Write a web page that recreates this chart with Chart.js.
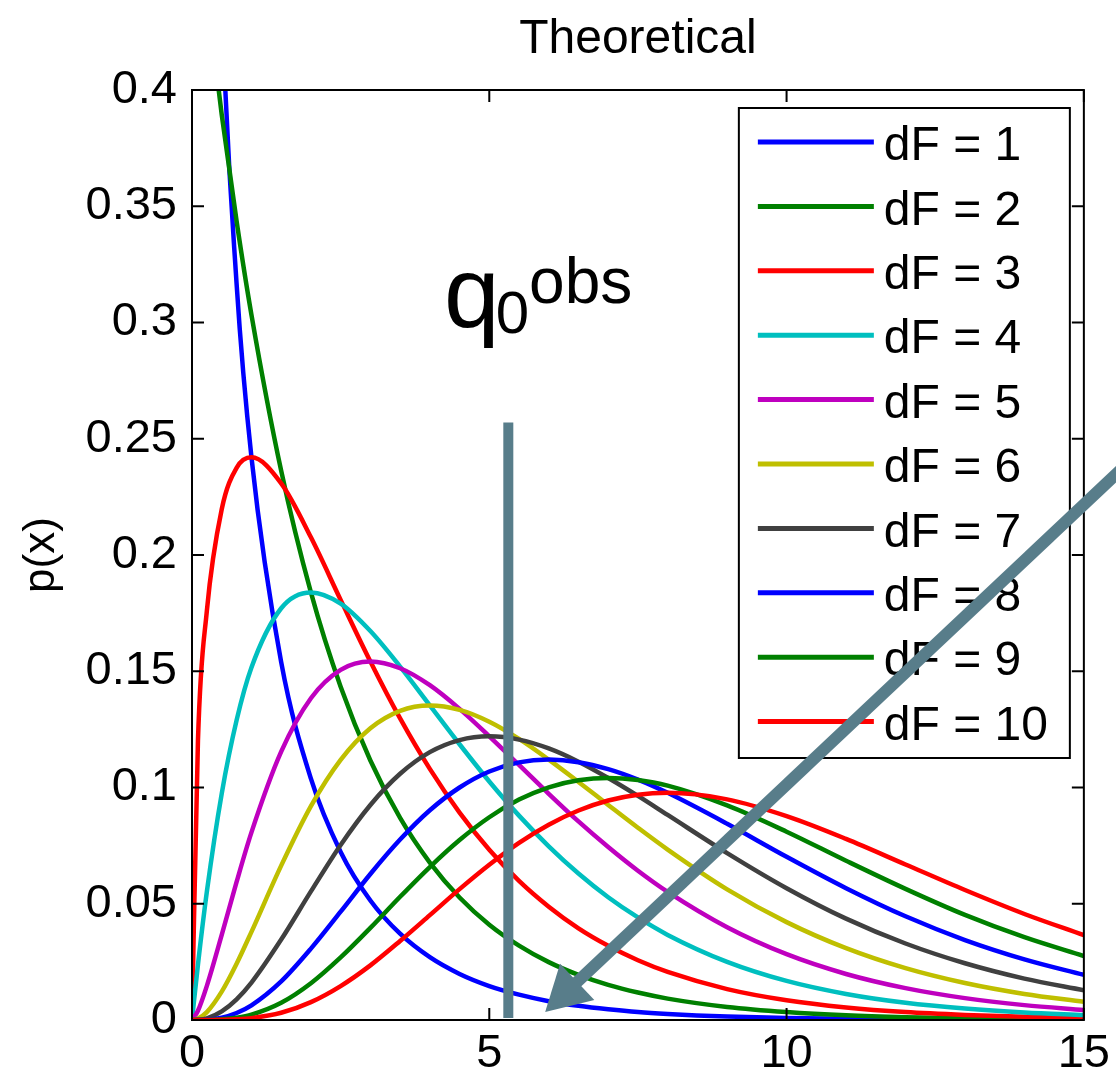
<!DOCTYPE html>
<html>
<head>
<meta charset="utf-8">
<script src="https://cdn.jsdelivr.net/npm/chart.js@4.4.1/dist/chart.umd.min.js"></script>
<style>
  html, body { margin: 0; padding: 0; background: #fff; }
</style>
</head>
<body>
<canvas id="myChart" width="1116" height="1083"></canvas>
<script>
// x positions shared by every curve
const xs = [0, 0.1, 0.25, 0.5, 0.75, 1, 1.5, 2, 2.5, 3, 3.5, 4, 4.5, 5, 5.5, 6, 6.5, 7, 7.5, 8, 9, 10, 11, 12, 13, 14, 15];

// p(x), one array per dF
const df1 = [null, 1.2, 0.704, 0.4394, 0.3166, 0.242, 0.1539, 0.1038, 0.0723, 0.0514, 0.0371, 0.027, 0.0198, 0.0146, 0.0109, 0.0081, 0.0061, 0.0046, 0.0034, 0.0026, 0.0015, 0.00085, 0.00049, 0.00029, 0.00017, 0.0001, 0.00006];
const df2 = [0.5, 0.4756, 0.4413, 0.3894, 0.3436, 0.3033, 0.2362, 0.1839, 0.1433, 0.1116, 0.0869, 0.0677, 0.0527, 0.041, 0.032, 0.0249, 0.0194, 0.0151, 0.0118, 0.0092, 0.0056, 0.0034, 0.002, 0.0012, 0.00075, 0.00046, 0.00028];
const df3 = [0, 0.12, 0.176, 0.2197, 0.2375, 0.242, 0.2308, 0.2076, 0.1807, 0.1542, 0.1297, 0.108, 0.0892, 0.0732, 0.0598, 0.0487, 0.0394, 0.0319, 0.0257, 0.0207, 0.0133, 0.0085, 0.0054, 0.0034, 0.0022, 0.0014, 0.00085];
const df4 = [0, 0.0238, 0.0552, 0.0974, 0.1289, 0.1516, 0.1771, 0.1839, 0.1791, 0.1673, 0.152, 0.1353, 0.1186, 0.1026, 0.0879, 0.0747, 0.063, 0.0528, 0.0441, 0.0366, 0.025, 0.0168, 0.0112, 0.0074, 0.0049, 0.0032, 0.0021];
const df5 = [0, 0.004, 0.0147, 0.0366, 0.0594, 0.0807, 0.1154, 0.1384, 0.1506, 0.1542, 0.1513, 0.144, 0.1338, 0.122, 0.1097, 0.0973, 0.0854, 0.0744, 0.0642, 0.0551, 0.0399, 0.0283, 0.0198, 0.0137, 0.0094, 0.0064, 0.0043];
const df6 = [0, 0.0006, 0.0034, 0.0122, 0.0242, 0.0379, 0.0664, 0.092, 0.1119, 0.1255, 0.133, 0.1353, 0.1334, 0.1283, 0.1209, 0.112, 0.1024, 0.0925, 0.0827, 0.0733, 0.0562, 0.0421, 0.0309, 0.0223, 0.0159, 0.0112, 0.0078];
const df7 = [0, 0.0001, 0.0007, 0.0037, 0.0089, 0.0161, 0.0346, 0.0553, 0.0753, 0.0925, 0.1059, 0.1152, 0.1204, 0.122, 0.1206, 0.1168, 0.1111, 0.1041, 0.0964, 0.0882, 0.0718, 0.0567, 0.0436, 0.0329, 0.0244, 0.0178, 0.0128];
const df8 = [0, 0, 0.0001, 0.001, 0.003, 0.0063, 0.0166, 0.0307, 0.0466, 0.0628, 0.0776, 0.0902, 0.1, 0.1069, 0.1108, 0.112, 0.1109, 0.1079, 0.1034, 0.0977, 0.0844, 0.0702, 0.0567, 0.0446, 0.0344, 0.0261, 0.0194];
const df9 = [0, 0, 0, 0.0003, 0.001, 0.0023, 0.0074, 0.0158, 0.0269, 0.0396, 0.053, 0.0658, 0.0774, 0.0872, 0.0948, 0.1001, 0.1031, 0.1041, 0.1032, 0.1008, 0.0923, 0.081, 0.0685, 0.0564, 0.0452, 0.0356, 0.0275];
const df10 = [0, 0, 0, 0.0001, 0.0003, 0.0008, 0.0031, 0.0077, 0.0146, 0.0235, 0.034, 0.0451, 0.0563, 0.0668, 0.0762, 0.084, 0.0901, 0.0944, 0.0969, 0.0977, 0.0949, 0.0877, 0.0779, 0.0669, 0.0559, 0.0456, 0.0365];

const labels = ["dF = 1", "dF = 2", "dF = 3", "dF = 4", "dF = 5", "dF = 6", "dF = 7", "dF = 8", "dF = 9", "dF = 10"];
const series = [df1, df2, df3, df4, df5, df6, df7, df8, df9, df10];

const xTicks = [0, 5, 10, 15];
const yTicks = [0, 0.05, 0.1, 0.15, 0.2, 0.25, 0.3, 0.35, 0.4];
const yTickLabels = ["0", "0.05", "0.1", "0.15", "0.2", "0.25", "0.3", "0.35", "0.4"];

// hand-drawn marks on top of the plot (data coords)
const obsX = 5.32;
const obsTop = 0.257;
const arrowFrom = [15.8, 0.241];
const arrowTo = [5.94, 0.0034];
const obsLabelAt = [4.29, 0.298];

const colors = ["#0000ff", "#008000", "#ff0000", "#00bfbf", "#bf00bf", "#bfbf00", "#404040", "#0000ff", "#008000", "#ff0000"];
const FONT = '"Liberation Sans", Arial, Helvetica, sans-serif';
const slate = "#587d8a";

const overlay = {
  id: "overlay",
  afterDatasetsDraw(chart) {
    const { ctx, chartArea: a, scales } = chart;
    const x = scales.x, y = scales.y;
    ctx.save();

    // title over the axes
    ctx.fillStyle = "#000";
    ctx.font = "48px " + FONT;
    ctx.textAlign = "center";
    ctx.textBaseline = "alphabetic";
    ctx.fillText("Theoretical", (a.left + a.right) / 2, 53);

    // axes box + inward ticks
    ctx.strokeStyle = "#000";
    ctx.lineWidth = 2;
    ctx.strokeRect(a.left, a.top, a.right - a.left, a.bottom - a.top);
    const tl = 12;
    ctx.beginPath();
    xTicks.forEach(v => {
      const px = x.getPixelForValue(v);
      ctx.moveTo(px, a.bottom); ctx.lineTo(px, a.bottom - tl);
      ctx.moveTo(px, a.top); ctx.lineTo(px, a.top + tl);
    });
    yTicks.forEach(v => {
      const py = y.getPixelForValue(v);
      ctx.moveTo(a.left, py); ctx.lineTo(a.left + tl, py);
      ctx.moveTo(a.right, py); ctx.lineTo(a.right - tl, py);
    });
    ctx.stroke();

    // legend box
    const lw = 331, lh = 650;
    const lx = a.right - 345, ly = a.top + 18;
    ctx.fillStyle = "#fff";
    ctx.fillRect(lx, ly, lw, lh);
    ctx.strokeStyle = "#000";
    ctx.lineWidth = 2;
    ctx.strokeRect(lx, ly, lw, lh);
    ctx.font = "48px " + FONT;
    ctx.textBaseline = "middle";
    ctx.textAlign = "left";
    labels.forEach((lab, i) => {
      const ry = ly + 34 + i * 64.4;
      ctx.strokeStyle = colors[i];
      ctx.lineWidth = 5;
      ctx.beginPath();
      ctx.moveTo(lx + 19, ry);
      ctx.lineTo(lx + 135, ry);
      ctx.stroke();
      ctx.fillStyle = "#000";
      ctx.fillText(lab, lx + 145, ry + 5);
    });

    // q0obs marker line
    ctx.strokeStyle = slate;
    ctx.lineWidth = 10;
    ctx.beginPath();
    ctx.moveTo(x.getPixelForValue(obsX), y.getPixelForValue(0) - 2);
    ctx.lineTo(x.getPixelForValue(obsX), y.getPixelForValue(obsTop));
    ctx.stroke();

    // arrow
    const sx = x.getPixelForValue(arrowFrom[0]), sy = y.getPixelForValue(arrowFrom[1]);
    const tx = x.getPixelForValue(arrowTo[0]), ty = y.getPixelForValue(arrowTo[1]);
    const len = Math.hypot(tx - sx, ty - sy);
    const ux = (tx - sx) / len, uy = (ty - sy) / len;
    const headL = 44, headW = 25;
    const bx = tx - ux * headL, by = ty - uy * headL;
    ctx.lineWidth = 12;
    ctx.beginPath();
    ctx.moveTo(sx, sy);
    ctx.lineTo(bx + ux * 4, by + uy * 4);
    ctx.stroke();
    ctx.fillStyle = slate;
    ctx.beginPath();
    ctx.moveTo(tx, ty);
    ctx.lineTo(bx - uy * headW, by + ux * headW);
    ctx.lineTo(bx + uy * headW, by - ux * headW);
    ctx.closePath();
    ctx.fill();

    // q0^obs label
    const qx = x.getPixelForValue(obsLabelAt[0]), qy = y.getPixelForValue(obsLabelAt[1]);
    ctx.fillStyle = "#000";
    ctx.textBaseline = "alphabetic";
    ctx.font = "100px " + FONT;
    ctx.fillText("q", qx - 3, qy);
    const qw = ctx.measureText("q").width;
    ctx.font = "60px " + FONT;
    ctx.fillText("0", qx - 3 + qw - 4, qy + 6);
    const zw = ctx.measureText("0").width;
    ctx.font = "64px " + FONT;
    ctx.fillText("obs", qx - 3 + qw - 4 + zw, qy - 24);

    ctx.restore();
  }
};

new Chart(document.getElementById("myChart"), {
  type: "line",
  data: {
    datasets: series.map((s, i) => ({
      label: labels[i],
      data: xs.map((v, j) => ({ x: v, y: s[j] })).filter(p => p.y !== null),
      borderColor: colors[i],
      borderWidth: 4.5,
      pointRadius: 0,
      fill: false,
      cubicInterpolationMode: "monotone",
      order: 10 - i
    }))
  },
  options: {
    responsive: false,
    animation: false,
    devicePixelRatio: 1,
    layout: { padding: { left: 0, right: 28, top: 90, bottom: 0 } },
    plugins: {
      legend: { display: false },
      tooltip: { enabled: false },
      title: { display: false }
    },
    scales: {
      x: {
        type: "linear",
        min: 0,
        max: 15,
        afterBuildTicks: s => { s.ticks = xTicks.map(v => ({ value: v })); },
        afterFit: s => { s.height = 63; },
        ticks: { color: "#000", font: { family: FONT, size: 47 }, padding: 6 },
        grid: { display: false, drawTicks: false },
        border: { display: false }
      },
      y: {
        min: 0,
        max: 0.4,
        afterBuildTicks: s => { s.ticks = yTicks.map(v => ({ value: v })); },
        afterFit: s => { s.width = 192; },
        ticks: {
          color: "#000",
          font: { family: FONT, size: 47 },
          padding: 15,
          callback: (v, i) => yTickLabels[i]
        },
        title: {
          display: true,
          text: "p(x)",
          color: "#000",
          font: { family: FONT, size: 44 },
          padding: { top: 15, bottom: 0 }
        },
        grid: { display: false, drawTicks: false },
        border: { display: false }
      }
    }
  },
  plugins: [overlay]
});
</script>
</body>
</html>
